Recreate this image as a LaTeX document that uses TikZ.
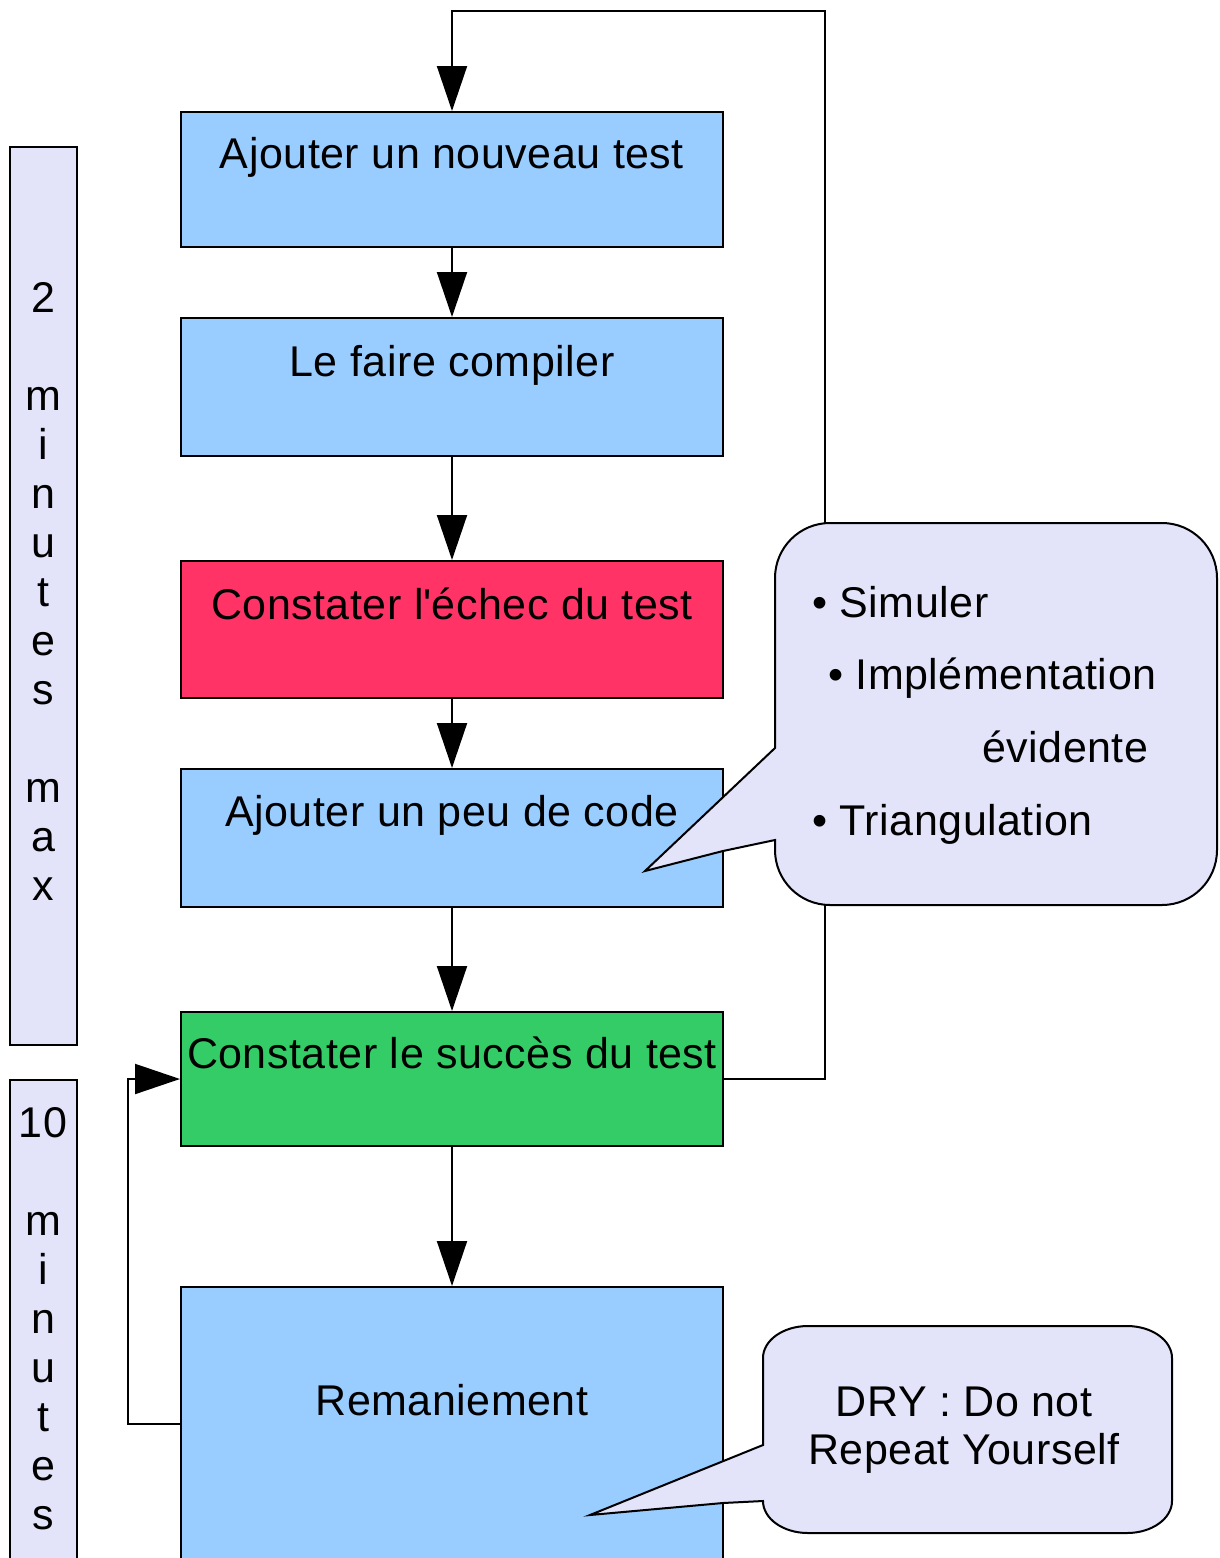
\documentclass[tikz,border=0pt]{standalone}
\usepackage{fontspec}
\setmainfont{Liberation Sans}[LetterSpace=1.2]
\usetikzlibrary{arrows.meta}
\definecolor{boxblue}{HTML}{99CCFF}
\definecolor{boxred}{HTML}{FF3366}
\definecolor{boxgreen}{HTML}{33CC66}
\definecolor{lav}{HTML}{E3E3FA}
\begin{document}
\begin{tikzpicture}[x=1pt,y=1pt,
  flow/.style={draw=black, line width=2pt, inner sep=0pt, minimum width=542pt, anchor=base, font=\fontsize{43pt}{49pt}\selectfont},
  arr/.style={line width=2pt, -{Triangle[width=30pt,length=45pt]}},
  bar/.style={draw=black, line width=2pt, fill=lav},
  callout/.style={draw=black, line width=2pt, fill=lav, line join=miter},
  txt/.style={inner sep=0pt, font=\fontsize{43pt}{49pt}\selectfont},
  bartxt/.style={inner sep=0pt, align=center, anchor=north, font=\fontsize{43pt}{49pt}\selectfont}]
\useasboundingbox (0,0) rectangle (1219,-1558);
\fill[white] (0,0) rectangle (1219,-1558);

% left bars
\draw[bar] (10,-147) rectangle (77,-1045);
\draw[bar] (10,-1080) rectangle (77,-1575);
\node[bartxt] (t1) at (43,-282) {2\\\mbox{}\\m\\i\\n\\u\\t\\e\\s\\\mbox{}\\m\\a\\x};
\node[bartxt] (t2) at (43,-1107) {10\\\mbox{}\\m\\i\\n\\u\\t\\e\\s};

% boxes
\node[flow, fill=boxblue,  text height=56pt,  text depth=79pt]  (b1) at (452,-168)  {Ajouter un nouveau test};
\node[flow, fill=boxblue,  text height=58pt,  text depth=80pt]  (b2) at (452,-376)  {Le faire compiler};
\node[flow, fill=boxred,   text height=58pt,  text depth=79pt]  (b3) at (452,-619)  {Constater l\textquotesingle échec du test};
\node[flow, fill=boxblue,  text height=57pt,  text depth=81pt]  (b4) at (452,-826)  {Ajouter un peu de code};
\node[flow, fill=boxgreen, text height=56pt,  text depth=78pt]  (b5) at (452,-1068) {Constater le succès du test};
\node[flow, fill=boxblue,  text height=128pt, text depth=146pt] (b6) at (452,-1415) {Remaniement};

% connectors
\coordinate (rc) at (825,-11);
\coordinate (lc) at (128,-1079);
\draw[arr] (b1.south) -- (b2.north);
\draw[arr] (b2.south) -- (b3.north);
\draw[arr] (b3.south) -- (b4.north);
\draw[arr] (b4.south) -- (b5.north);
\draw[arr] (b5.south) -- (b6.north);
\draw[arr] (b5.east) -| (rc) -| (b1.north);
\draw[arr] (b6.west) -| (lc) -- (b5.west);

% callout 1
\draw[callout] (645,-871) -- (775,-748) -- (775,-578)
  arc[start angle=180,end angle=90,radius=55pt] -- (1162,-523)
  arc[start angle=90,end angle=0,radius=55pt] -- (1217,-850)
  arc[start angle=0,end angle=-90,radius=55pt] -- (830,-905)
  arc[start angle=270,end angle=180,radius=55pt] -- (775,-840) -- (723,-851) -- cycle;
\node[txt, anchor=base west] (c1a) at (812,-617) {• Simuler};
\node[txt, anchor=base west] (c1b) at (828,-689) {• Implémentation};
\node[txt, anchor=base west] (c1c) at (982,-762) {évidente};
\node[txt, anchor=base west] (c1d) at (812,-835) {• Triangulation};

% callout 2
\draw[callout] (590,-1515) -- (763,-1445) -- (763,-1358)
  arc[start angle=180,end angle=90,x radius=45pt,y radius=32pt] -- (1127,-1326)
  arc[start angle=90,end angle=0,x radius=45pt,y radius=32pt] -- (1172,-1501)
  arc[start angle=0,end angle=-90,x radius=45pt,y radius=32pt] -- (808,-1533)
  arc[start angle=270,end angle=180,x radius=45pt,y radius=32pt] -- (763,-1501) -- (723,-1503) -- cycle;
\node[txt, align=center, anchor=north, font=\fontsize{43pt}{48pt}\selectfont] (c2) at (964,-1387) {DRY : Do not\\Repeat Yourself};
\end{tikzpicture}
\end{document}
